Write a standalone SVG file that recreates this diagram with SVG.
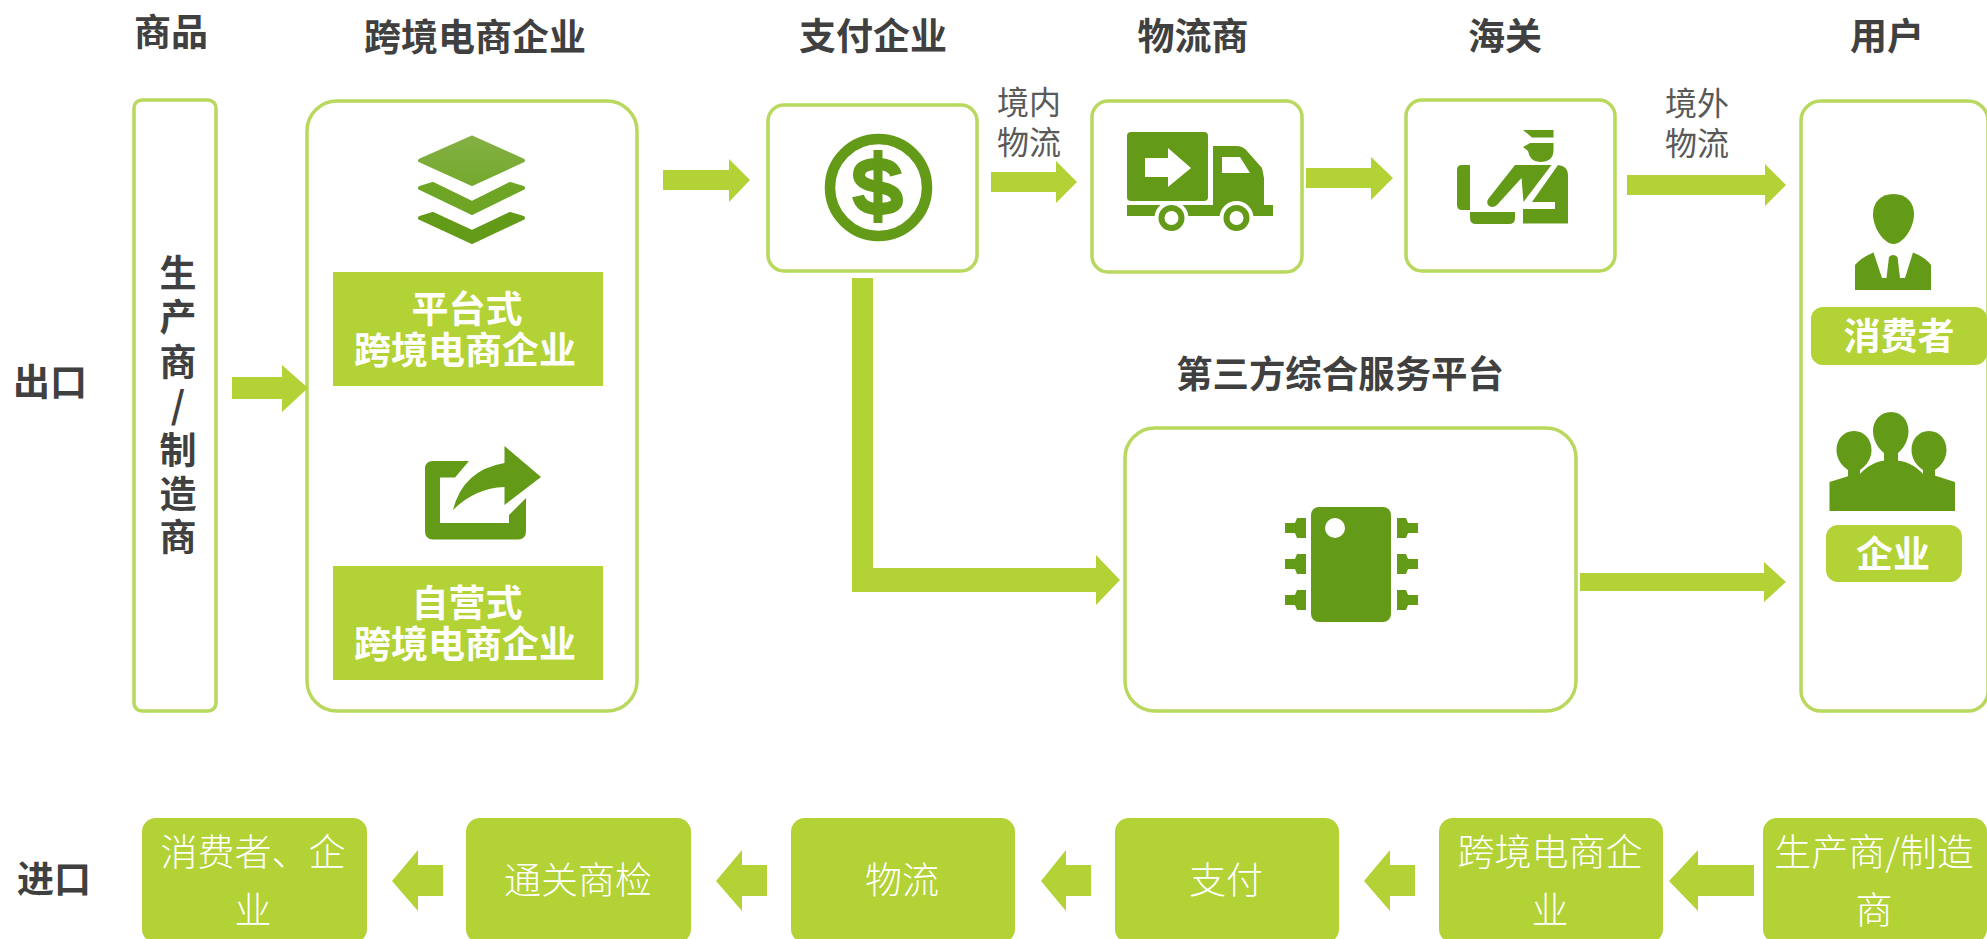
<svg xmlns="http://www.w3.org/2000/svg" width="1987" height="939" viewBox="0 0 1987 939">
<style>
text{font-family:"Noto Sans CJK SC","Noto Sans",sans-serif;text-anchor:middle}
.t{font-size:37px;font-weight:700;fill:#404040}
.w{font-size:37px;font-weight:700;fill:#fff}
.l{font-size:32px;font-weight:400;fill:#595959}
.p{font-size:37px;font-weight:300;fill:#fff}
.box{fill:#fff;stroke:#b8d85e;stroke-width:3.5}
.fill{fill:#b2d235}
.ic{fill:#639a17}
.hole{fill:#fff}
.rnd{stroke-linejoin:round;stroke-width:4}
</style>
<defs>
<linearGradient id="stack" x1="0" y1="0" x2="0" y2="1"><stop offset="0" stop-color="#84b044"/><stop offset="1" stop-color="#74a92e"/></linearGradient>
</defs>
<rect width="1987" height="939" fill="#fff"/>
<text class="t" x="171" y="46">商品</text>
<text class="t" x="475" y="51">跨境电商企业</text>
<text class="t" x="873" y="50">支付企业</text>
<text class="t" x="1193" y="50">物流商</text>
<text class="t" x="1505" y="50">海关</text>
<text class="t" x="1887" y="50">用户</text>
<text class="t" x="50" y="396">出口</text>
<text class="t" x="54" y="893">进口</text>
<text class="t" x="1340" y="388" textLength="328" lengthAdjust="spacingAndGlyphs">第三方综合服务平台</text>

<g id="producer">
<rect class="box" x="134" y="100" width="82" height="611" rx="8"/>
<text class="t"><tspan x="178" y="287">生</tspan><tspan x="178" y="331">产</tspan><tspan x="178" y="376">商</tspan><tspan x="178" y="419">/</tspan><tspan x="178" y="464">制</tspan><tspan x="178" y="508">造</tspan><tspan x="178" y="551">商</tspan></text>
</g>
<g id="ecommerce">
<rect class="box" x="307" y="101" width="330" height="610" rx="30"/>
<path fill="url(#stack)" stroke="url(#stack)" class="rnd" d="M472 137.500L523 160.500L472 184L420 160.500Z"/>
<path fill="#6fa525" stroke="#6fa525" class="rnd" d="M420 188L433 184L472 203L510 184L523 188L472 213Z"/>
<path fill="#639b18" stroke="#639b18" class="rnd" d="M420 218L433 214L472 232L510 214L523 218L472 242Z"/>
<rect class="fill" x="333" y="272" width="270" height="114"/>
<text class="w"><tspan x="467" y="323">平台式</tspan><tspan x="465" y="364">跨境电商企业</tspan></text>
<path class="ic" d="M469 461L433 461Q425 461 425 469L425 531Q425 539.500 433 539.500L518 539.500Q526 539.500 526 531L526 498L509 515L509 523L440 523L440 477.500L455 477.500Z"/>
<path class="ic" d="M504.500 446L541 477L504.500 505L504.500 487Q475 488 453 510Q463 470 504.500 463Z"/>
<rect class="fill" x="333" y="566" width="270" height="114"/>
<text class="w"><tspan x="467" y="617">自营式</tspan><tspan x="465" y="658">跨境电商企业</tspan></text>
</g>
<g id="payment">
<rect class="box" x="768" y="105" width="209" height="166" rx="16"/>
<circle cx="878.500" cy="187.500" r="48.500" fill="none" stroke="#639a17" stroke-width="10.500"/>
<path fill="none" stroke="#639a17" stroke-width="12" d="M896 175Q893 164 878 164Q859 164 859 175Q859 184 878 187Q897 190 897 200Q897 209 878 209Q861 209 858 196"/>
<path class="ic" d="M873.500 150H882.500V223H873.500Z"/>
</g>
<g id="logistics">
<rect class="box" x="1092" y="101" width="210" height="171" rx="16"/>
<rect class="ic" x="1127" y="132" width="81" height="69" rx="4"/>
<path class="hole" d="M1145 158H1168V148L1191 168L1168 187V177H1145Z"/>
<path class="ic" d="M1213 146H1236Q1243 146 1247 151L1262 168L1264 178V206H1213Z"/>
<path class="hole" d="M1222 157H1240L1250 173H1222Z"/>
<rect class="ic" x="1127" y="205" width="146" height="11"/>
<circle class="hole" cx="1171.500" cy="218" r="17"/><circle class="hole" cx="1236.500" cy="218" r="17"/>
<circle cx="1171.500" cy="218" r="10" fill="none" stroke="#639a17" stroke-width="6"/>
<circle cx="1236.500" cy="218" r="10" fill="none" stroke="#639a17" stroke-width="6"/>
</g>
<g id="customs">
<rect class="box" x="1406" y="100" width="209" height="171" rx="16"/>
<path class="ic" d="M1523 130H1553.500V137.500H1532Z"/>
<path class="ic" d="M1523 147L1530 143H1553.500V150Q1553.500 162 1540 162Q1530 162 1528 151Z"/>
<path class="ic" d="M1515 165H1551.500L1523.500 202L1521.500 178L1497 205Q1492 209 1488 205Q1486 201 1489 198Z"/>
<path class="ic" d="M1558 165Q1568 166 1568 175V223.500H1523V209H1555V202H1532Z"/>
<path class="ic" d="M1457 170Q1457 165 1462 165H1470V210H1462Q1457 210 1457 205Z"/>
<path class="ic" d="M1470 212H1515V218Q1515 224 1509 224H1476Q1470 224 1470 218Z"/>
</g>
<g id="platform">
<rect class="box" x="1125" y="428" width="451" height="283" rx="30"/>
<rect class="ic" x="1311" y="507" width="80" height="115" rx="8"/>
<ellipse class="hole" cx="1335" cy="528" rx="10" ry="10"/>
<path class="ic" d="M1297 518H1306V538H1297L1295 533H1285V523H1295Z"/>
<path class="ic" d="M1297 554H1306V574H1297L1295 569H1285V559H1295Z"/>
<path class="ic" d="M1297 590H1306V610H1297L1295 605H1285V595H1295Z"/>
<path class="ic" d="M1397 518H1406L1408 523H1418V533H1408L1406 538H1397Z"/>
<path class="ic" d="M1397 554H1406L1408 559H1418V569H1408L1406 574H1397Z"/>
<path class="ic" d="M1397 590H1406L1408 595H1418V605H1408L1406 610H1397Z"/>
</g>
<g id="user">
<rect class="box" x="1801" y="101" width="187" height="610" rx="20"/>
<path class="ic" d="M1893.500 194C1880 194 1873 203 1873 214C1873 228 1884 244 1893.500 244C1903 244 1914 228 1914 214C1914 203 1907 194 1893.500 194Z"/>
<path class="ic" d="M1855 290V265Q1862 257 1873.500 252.500L1882 278H1886.500L1889 257Q1893 253 1897.500 257L1900 278H1905L1913 252.500Q1925 257 1931 265V290Z"/>
<rect class="fill" x="1811" y="307" width="176" height="58" rx="12"/>
<text class="w" x="1899" y="350">消费者</text>
<path class="ic" d="M1891 412C1880 412 1873 421 1873 431C1873 441 1879 449 1884 453V462H1898V453C1903 449 1908.500 441 1908.500 431C1908.500 421 1902 412 1891 412Z"/>
<path class="ic" d="M1854 431C1843 431 1836.500 440 1836.500 450C1836.500 459 1842 466 1848 470V476H1860V470C1866 466 1871.500 459 1871.500 450C1871.500 440 1865 431 1854 431Z"/>
<path class="ic" d="M1929 431C1918 431 1911.500 440 1911.500 450C1911.500 459 1917 466 1923 470V476H1935V470C1941 466 1946.500 459 1946.500 450C1946.500 440 1940 431 1929 431Z"/>
<path class="ic" d="M1829.500 482L1852 475H1859Q1872 460 1891 460Q1911 460 1924 475H1933L1955 482V511H1829.500Z"/>
<rect class="fill" x="1826" y="525" width="136" height="57" rx="12"/>
<text class="w" x="1893" y="568">企业</text>
</g>

<g id="connectors">
<polygon class="fill" points="232,377 282,377 282,365 308,388 282,412 282,399 232,399"/>
<polygon class="fill" points="663,170 729,170 729,159 750,180 729,202 729,190 663,190"/>
<polygon class="fill" points="991,172 1056,172 1056,161 1077,182 1056,203 1056,192 991,192"/>
<polygon class="fill" points="1306,168 1371,168 1371,157 1393,178 1371,200 1371,188 1306,188"/>
<polygon class="fill" points="1627,175 1765,175 1765,164 1786,185 1765,206 1765,195 1627,195"/>
<polygon class="fill" points="1580,573 1764,573 1764,562 1786,582 1764,602 1764,591 1580,591"/>
<polygon class="fill" points="852,278 873,278 873,568 1096,568 1096,555 1120,580 1096,605 1096,592 852,592"/>
<polygon class="fill" points="443,865 418,865 418,850 392,881 418,911 418,896 443,896"/>
<polygon class="fill" points="767,865 742,865 742,850 716,881 742,911 742,896 767,896"/>
<polygon class="fill" points="1091,865 1066,865 1066,850 1041,881 1066,911 1066,896 1091,896"/>
<polygon class="fill" points="1415,865 1390,865 1390,850 1364,881 1390,911 1390,896 1415,896"/>
<polygon class="fill" points="1754,865 1698,865 1698,850 1669,881 1698,911 1698,896 1754,896"/>
<text class="l"><tspan x="1029" y="114">境内</tspan><tspan x="1029" y="154">物流</tspan></text>
<text class="l"><tspan x="1697" y="115">境外</tspan><tspan x="1697" y="155">物流</tspan></text>
</g>

<g id="imp1"><rect class="fill" x="142" y="818" width="225" height="125" rx="14"/><text class="p"><tspan x="253" y="866">消费者、企</tspan><tspan x="253" y="924">业</tspan></text></g>
<g id="imp2"><rect class="fill" x="466" y="818" width="225" height="125" rx="14"/><text class="p" x="578" y="894">通关商检</text></g>
<g id="imp3"><rect class="fill" x="791" y="818" width="224" height="125" rx="14"/><text class="p" x="902" y="894">物流</text></g>
<g id="imp4"><rect class="fill" x="1115" y="818" width="224" height="125" rx="14"/><text class="p" x="1226" y="894">支付</text></g>
<g id="imp5"><rect class="fill" x="1439" y="818" width="224" height="125" rx="14"/><text class="p"><tspan x="1550" y="866">跨境电商企</tspan><tspan x="1550" y="924">业</tspan></text></g>
<g id="imp6"><rect class="fill" x="1763" y="818" width="224" height="125" rx="14"/><text class="p"><tspan x="1874" y="866">生产商/制造</tspan><tspan x="1874" y="924">商</tspan></text></g>
</svg>
